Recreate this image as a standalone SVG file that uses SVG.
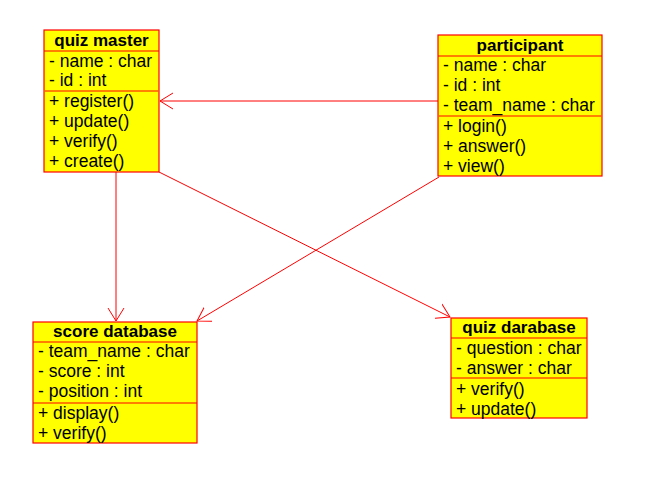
<svg xmlns="http://www.w3.org/2000/svg" width="658" height="487" viewBox="0 0 658 487">
<defs>
<style>
.box{fill:#ffff00;stroke:#ff0000;stroke-width:1.2}
.sep{stroke:#ff0000;stroke-width:1.2}
.sep2{stroke:#ff5a00;stroke-width:1.5}
text{font-family:"Liberation Sans",Arial,sans-serif;font-size:17.5px;fill:#000}
.t{font-weight:bold;text-anchor:middle;font-size:17px}
.c{stroke:#ff0000;stroke-width:1;fill:none}
</style>
<marker id="arr" viewBox="0 0 14 18" refX="13" refY="9" markerWidth="14" markerHeight="18" markerUnits="userSpaceOnUse" orient="auto">
<path d="M0,1 L13,9 L0,17" fill="none" stroke="#ff0000" stroke-width="1"/>
</marker>
</defs>
<rect width="658" height="487" fill="#ffffff"/>
<g id="connectors">
<line class="c" x1="438" y1="101" x2="160" y2="101" marker-end="url(#arr)"/>
<line class="c" x1="116" y1="172" x2="116" y2="321" marker-end="url(#arr)"/>
<line class="c" x1="159" y1="172" x2="450" y2="317" marker-end="url(#arr)"/>
<line class="c" x1="439" y1="177" x2="197" y2="321" marker-end="url(#arr)"/>
</g>
<g id="quiz_master">
<rect class="box" x="44" y="30" width="115" height="142"/>
<line class="sep" x1="44" y1="51" x2="159" y2="51"/>
<line class="sep2" x1="44" y1="91" x2="159" y2="91"/>
<text class="t" x="101.5" y="46">quiz master</text>
<text x="49" y="67">- name : char</text>
<text x="49" y="86">- id : int</text>
<text x="49" y="107">+ register()</text>
<text x="49" y="127">+ update()</text>
<text x="49" y="147">+ verify()</text>
<text x="49" y="167">+ create()</text>
</g>
<g id="participant">
<rect class="box" x="438" y="35" width="164" height="141"/>
<line class="sep" x1="438" y1="56" x2="602" y2="56"/>
<line class="sep2" x1="438" y1="116" x2="602" y2="116"/>
<text class="t" x="520" y="51">participant</text>
<text x="443" y="71">- name : char</text>
<text x="443" y="91">- id : int</text>
<text x="443" y="111">- team_name : char</text>
<text x="443" y="132">+ login()</text>
<text x="443" y="152">+ answer()</text>
<text x="443" y="172">+ view()</text>
</g>
<g id="score_database">
<rect class="box" x="33" y="322" width="164" height="121"/>
<line class="sep" x1="33" y1="342" x2="197" y2="342"/>
<line class="sep" x1="33" y1="403" x2="197" y2="403"/>
<text class="t" x="115" y="337">score database</text>
<text x="38" y="357">- team_name : char</text>
<text x="38" y="377">- score : int</text>
<text x="38" y="397">- position : int</text>
<text x="38" y="419">+ display()</text>
<text x="38" y="439">+ verify()</text>
</g>
<g id="quiz_darabase">
<rect class="box" x="451" y="318" width="136" height="100"/>
<line class="sep" x1="451" y1="338" x2="587" y2="338"/>
<line class="sep" x1="451" y1="378" x2="587" y2="378"/>
<text class="t" x="519" y="333">quiz darabase</text>
<text x="456" y="354">- question : char</text>
<text x="456" y="374">- answer : char</text>
<text x="456" y="395">+ verify()</text>
<text x="456" y="415">+ update()</text>
</g>
</svg>
